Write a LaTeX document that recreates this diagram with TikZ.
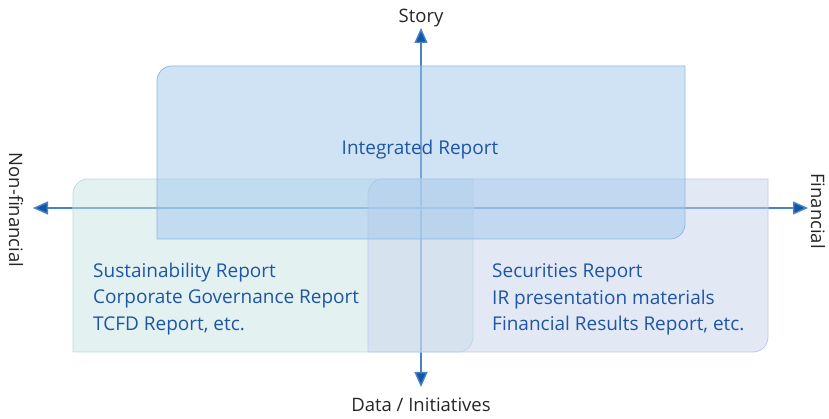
\documentclass[tikz,border=0pt]{standalone}
\usepackage{fontspec}
\setmainfont{Open Sans}
\usetikzlibrary{positioning,arrows.meta}

\definecolor{axisblue}{RGB}{70,130,200}
\definecolor{tipblue}{RGB}{20,85,165}
\definecolor{textblue}{RGB}{30,85,165}
\definecolor{irfill}{RGB}{160,200,235}
\definecolor{irline}{RGB}{140,185,230}
\definecolor{susfill}{RGB}{200,228,228}
\definecolor{susline}{RGB}{185,222,222}
\definecolor{secfill}{RGB}{200,210,236}
\definecolor{secline}{RGB}{190,200,235}

\begin{document}
\begin{tikzpicture}[x=1pt,y=1pt,
    axis/.style={axisblue,line width=1.4pt,-{Triangle[length=15pt,width=13pt,fill=tipblue]}},
    axislabel/.style={font=\fontsize{18.5}{22}\selectfont,text=black!85,inner sep=1pt},
    report/.style={fill opacity=0.5,line width=0.8pt},
    reporttext/.style={font=\fontsize{19}{26.5}\selectfont,text=textblue,align=left,inner sep=0pt}]
    \useasboundingbox (0,0) rectangle (829,419);
    %%%%% THE AXES
    \coordinate (O) at (421,211);
    \node[axislabel] (STORY) at (421,401) {Story};
    \node[axislabel] (DATA) at (421,14) {Data / Initiatives};
    \node[axislabel,rotate=-90] (NONFIN) at (16,209) {Non-financial};
    \node[axislabel,rotate=-90] (FIN) at (818,208) {Financial};
    \coordinate (UP) at (421,391);
    \coordinate (DOWN) at (421,32);
    \coordinate (LEFT) at (33,211);
    \coordinate (RIGHT) at (808,211);
    \draw[axis] (O) -- (UP);
    \draw[axis] (O) -- (DOWN);
    \draw[axis] (O) -- (LEFT);
    \draw[axis] (O) -- (RIGHT);
    %%%%% THE REPORT BOXES
    % rounded at top left and bottom right only
    \draw[report,fill=susfill,draw=susline] (73,67) -- (73,225) arc[start angle=180,end angle=90,radius=15]
      -- (473,240) -- (473,82) arc[start angle=0,end angle=-90,radius=15] -- cycle;
    \draw[report,fill=secfill,draw=secline] (368,67) -- (368,225) arc[start angle=180,end angle=90,radius=15]
      -- (768,240) -- (768,82) arc[start angle=0,end angle=-90,radius=15] -- cycle;
    \draw[report,fill=irfill,draw=irline] (157,180) -- (157,338) arc[start angle=180,end angle=90,radius=15]
      -- (685,353) -- (685,195) arc[start angle=0,end angle=-90,radius=15] -- cycle;
    %%%%% THE LABELS
    \node[reporttext] (IR) at (420,269) {Integrated Report};
    \node[reporttext,anchor=north west] (NONFINREP) at (93,156.5)
      {Sustainability Report\\Corporate Governance Report\\TCFD Report, etc.};
    \node[reporttext,anchor=north west] (FINREP) at (492,155.5)
      {Securities Report\\IR presentation materials\\Financial Results Report, etc.};
\end{tikzpicture}
\end{document}
